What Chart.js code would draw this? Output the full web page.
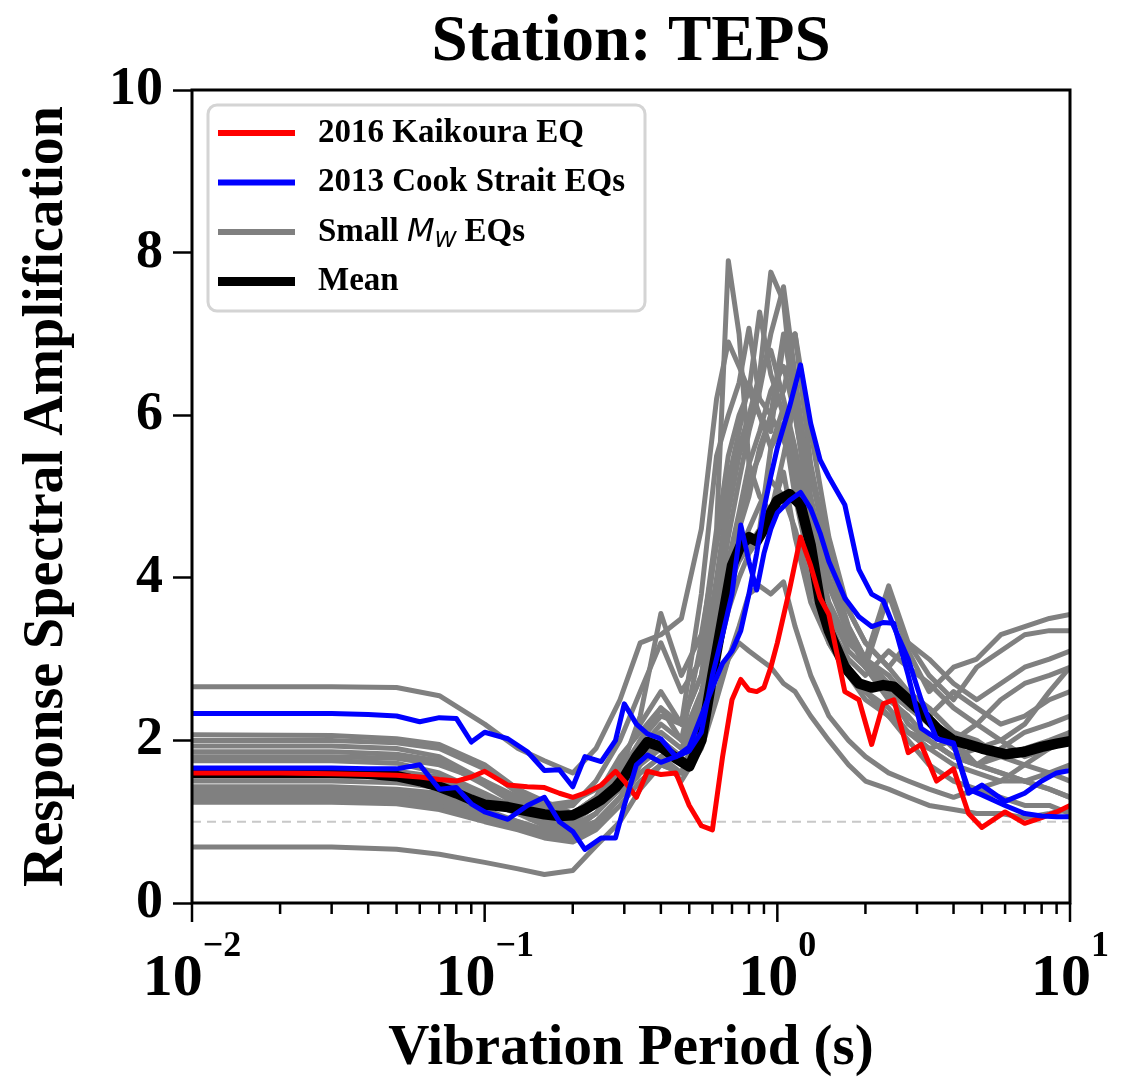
<!DOCTYPE html>
<html>
<head>
<meta charset="utf-8">
<script src="https://cdn.jsdelivr.net/npm/chart.js@4.4.1/dist/chart.umd.min.js"></script>
<style>
  html, body { margin: 0; padding: 0; background: #ffffff; }
  #chart { display: block; }
</style>
</head>
<body>
<canvas id="chart" width="1127" height="1078" style="width:1127px;height:1078px"></canvas>
<script>
// Periods (s) used for the highlighted records and the mean
const periods = [0.01, 0.02, 0.03, 0.04, 0.05, 0.06, 0.07, 0.08, 0.09, 0.1,
    0.12, 0.14, 0.16, 0.18, 0.2, 0.22, 0.25, 0.28, 0.3, 0.33, 0.36, 0.4, 0.45, 0.5,
    0.55, 0.6, 0.65, 0.7, 0.75, 0.8, 0.85, 0.9, 0.95, 1.0, 1.1, 1.2, 1.3, 1.4, 1.5,
    1.7, 1.9, 2.1, 2.3, 2.5, 2.8, 3.1, 3.5, 4.0, 4.5, 5.0, 6.0, 7.0, 8.0, 9.0, 10];

const meanAmp = [1.6, 1.6, 1.6, 1.59, 1.56, 1.5, 1.43, 1.35, 1.27, 1.21,
    1.18, 1.13, 1.09, 1.07, 1.08, 1.15, 1.27, 1.42, 1.55, 1.8, 1.98, 1.92, 1.78, 1.68,
    2.0, 2.8, 3.5, 4.15, 4.4, 4.5, 4.45, 4.6, 4.8, 4.95, 5.03, 4.9, 4.4, 3.7, 3.35,
    2.9, 2.7, 2.65, 2.68, 2.66, 2.5, 2.35, 2.15, 2.0, 1.95, 1.9, 1.83, 1.86, 1.92, 1.96, 1.99];

const kaikoura = [1.6, 1.6, 1.59, 1.58, 1.57, 1.55, 1.52, 1.5, 1.55, 1.62,
    1.45, 1.43, 1.42, 1.35, 1.3, 1.35, 1.45, 1.62, 1.5, 1.3, 1.62, 1.58, 1.6, 1.2,
    0.95, 0.9, 1.8, 2.5, 2.75, 2.62, 2.6, 2.65, 2.9, 3.2, 3.85, 4.5, 4.15, 3.75, 3.55,
    2.6, 2.5, 1.95, 2.45, 2.5, 1.85, 1.95, 1.5, 1.65, 1.1, 0.93, 1.12, 0.98, 1.05, 1.12, 1.2];

const cookStraitA = [2.33, 2.33, 2.33, 2.32, 2.3, 2.23, 2.28, 2.27, 1.98, 2.1,
    2.02, 1.86, 1.63, 1.64, 1.43, 1.8, 1.74, 2.0, 2.45, 2.2, 2.08, 2.02, 1.8, 1.87,
    2.1, 2.8, 3.3, 3.8, 4.65, 4.2, 3.85, 4.3, 4.6, 4.8, 4.95, 5.05, 4.85, 4.55, 4.2,
    3.75, 3.52, 3.4, 3.45, 3.44, 2.8, 2.15, 2.02, 1.97, 1.35, 1.45, 1.25, 1.35, 1.5, 1.6, 1.63];

const cookStraitB = [1.66, 1.66, 1.66, 1.65, 1.65, 1.7, 1.4, 1.42, 1.22, 1.12,
    1.03, 1.2, 1.3, 1.0, 0.88, 0.66, 0.8, 0.8, 1.2, 1.7, 1.82, 1.73, 1.8, 1.92,
    2.3, 2.65, 2.95, 3.1, 3.35, 3.8, 4.3, 4.85, 5.25, 5.6, 6.1, 6.62, 5.9, 5.45, 5.24,
    4.9, 4.1, 3.8, 3.72, 3.4, 3.0, 2.5, 2.02, 1.95, 1.4, 1.33, 1.2, 1.1, 1.07, 1.06, 1.06];

// Periods (s) for the small-magnitude records
const periodsGray = [0.01, 0.03, 0.05, 0.07, 0.1, 0.13, 0.16, 0.2, 0.24, 0.29, 0.34, 0.4,
    0.47, 0.55, 0.62, 0.68, 0.74, 0.8, 0.87, 0.95, 1.05, 1.15, 1.3, 1.5, 1.75, 2.0,
    2.4, 2.8, 3.3, 4.0, 4.8, 5.8, 7.0, 8.5, 10];

const small01 = [2.66, 2.66, 2.65, 2.55, 2.2, 1.9, 1.75, 1.6, 1.9, 2.5, 3.2, 3.3, 3.5, 4.6, 6.2, 6.9, 6.6, 6.3, 6.0, 5.6, 6.1, 5.2, 4.3, 3.6, 3.1, 2.9, 3.8, 3.1, 2.6, 2.9, 3.0, 3.3, 3.4, 3.5, 3.55];
const small02 = [2.07, 2.06, 2.02, 1.95, 1.7, 1.4, 1.25, 1.1, 1.3, 1.8, 2.1, 2.4, 2.0, 3.2, 4.6, 7.9, 7.0, 5.4, 5.0, 4.8, 5.3, 4.5, 3.7, 3.2, 2.8, 2.6, 2.4, 2.1, 1.9, 2.0, 1.7, 1.6, 1.5, 1.4, 1.3];
const small03 = [2.0, 2.0, 1.97, 1.9, 1.65, 1.35, 1.2, 1.1, 1.3, 1.6, 2.0, 2.3, 2.2, 3.8, 5.5, 6.0, 6.4, 7.07, 6.2, 6.0, 7.0, 6.2, 4.5, 3.4, 3.0, 2.8, 3.1, 2.9, 2.7, 2.4, 2.2, 2.0, 2.2, 2.6, 2.9];
const small04 = [1.93, 1.93, 1.9, 1.8, 1.5, 1.25, 1.15, 1.2, 1.5, 2.0, 2.6, 3.2, 2.6, 3.0, 4.5, 5.5, 6.0, 6.3, 7.27, 6.5, 6.0, 5.5, 4.4, 3.6, 3.2, 3.0, 3.9, 3.2, 2.8, 2.5, 2.9, 3.1, 3.3, 3.35, 3.35];
const small05 = [1.86, 1.86, 1.83, 1.75, 1.45, 1.2, 1.05, 1.0, 1.2, 1.7, 2.2, 2.6, 2.2, 2.8, 4.0, 5.0, 5.6, 6.0, 6.5, 7.76, 7.4, 6.0, 4.8, 3.9, 3.4, 3.0, 2.6, 2.4, 2.3, 2.0, 2.2, 2.5, 2.7, 2.8, 2.9];
const small06 = [1.8, 1.8, 1.78, 1.7, 1.5, 1.3, 1.2, 1.25, 1.4, 1.6, 1.9, 2.1, 1.9, 2.5, 3.6, 4.5, 5.2, 5.8, 6.3, 7.0, 7.58, 6.5, 5.0, 4.0, 3.3, 2.9, 2.5, 2.3, 2.0, 1.8, 1.9, 2.0, 1.8, 1.9, 2.0];
const small07 = [1.75, 1.75, 1.72, 1.6, 1.35, 1.15, 1.0, 0.95, 1.1, 1.5, 1.8, 2.0, 1.8, 2.4, 3.3, 4.0, 4.6, 5.0, 5.6, 6.0, 6.3, 7.0, 5.8, 4.5, 3.6, 3.2, 2.9, 2.6, 2.4, 2.1, 2.0, 1.8, 1.7, 1.6, 1.5];
const small08 = [1.65, 1.65, 1.62, 1.55, 1.3, 1.1, 0.95, 0.9, 1.0, 1.3, 1.6, 1.8, 1.6, 2.2, 3.0, 3.6, 4.0, 4.3, 4.5, 4.8, 5.5, 6.2, 5.3, 4.2, 3.4, 3.0, 2.7, 2.4, 2.2, 1.9, 1.7, 1.6, 1.5, 1.4, 1.3];
const small09 = [1.43, 1.43, 1.4, 1.35, 1.15, 1.0, 0.9, 0.9, 1.1, 1.4, 1.7, 1.9, 1.7, 2.0, 2.6, 3.0, 3.2, 3.1, 3.0, 2.9, 2.7, 2.6, 2.3, 2.0, 1.7, 1.5, 1.4, 1.3, 1.2, 1.15, 1.1, 1.1, 1.05, 1.1, 1.15];
const small10 = [1.38, 1.38, 1.35, 1.3, 1.1, 0.95, 0.85, 0.85, 1.0, 1.3, 1.6, 1.8, 1.5, 1.9, 2.5, 3.0, 3.4, 3.8, 3.9, 3.8, 3.95, 3.4, 2.8, 2.3, 2.0, 1.8, 1.6, 1.5, 1.4, 1.3, 1.4, 1.5, 1.7, 1.9, 2.1];
const small11 = [1.33, 1.33, 1.3, 1.25, 1.1, 1.0, 0.9, 0.9, 1.1, 1.5, 2.0, 2.4, 2.2, 2.8, 3.8, 4.8, 5.5, 5.9, 6.5, 6.8, 6.2, 5.6, 4.6, 3.7, 3.2, 3.0, 2.8, 2.5, 2.3, 2.6, 2.4, 2.2, 2.3, 2.5, 2.6];
const small12 = [1.28, 1.28, 1.26, 1.2, 1.05, 0.95, 0.85, 0.8, 0.95, 1.3, 1.7, 2.0, 1.8, 2.5, 3.5, 4.2, 4.8, 5.4, 5.8, 6.3, 6.6, 6.0, 4.9, 3.9, 3.3, 2.9, 2.6, 2.2, 2.0, 1.8, 1.7, 1.9, 2.1, 2.2, 2.3];
const small13 = [1.24, 1.24, 1.22, 1.15, 1.0, 0.9, 0.8, 0.75, 0.9, 1.2, 1.5, 1.7, 1.6, 2.1, 3.0, 3.7, 4.3, 4.6, 4.9, 5.2, 5.0, 4.6, 3.9, 3.2, 2.8, 2.5, 2.3, 2.0, 1.7, 1.5, 1.4, 1.3, 1.2, 1.2, 1.1];
const small14 = [0.69, 0.69, 0.66, 0.6, 0.5, 0.42, 0.35, 0.4, 0.7, 1.0, 1.4, 1.7, 1.6, 2.2, 3.2, 4.0, 4.7, 5.2, 5.5, 6.0, 5.7, 5.3, 4.4, 3.5, 2.9, 2.6, 2.3, 2.1, 1.9, 1.7, 1.6, 1.5, 1.5, 1.6, 1.7];
const small15 = [1.6, 1.6, 1.58, 1.5, 1.3, 1.2, 1.1, 1.1, 1.3, 1.6, 2.3, 3.56, 2.8, 3.3, 4.4, 5.2, 5.8, 6.4, 6.0, 5.8, 6.9, 7.0, 5.4, 4.3, 3.6, 3.2, 2.9, 3.2, 3.0, 2.7, 2.5, 2.7, 2.9, 3.0, 3.1];
const small16 = [1.5, 1.5, 1.48, 1.42, 1.25, 1.1, 1.0, 1.0, 1.2, 1.5, 1.9, 2.2, 2.0, 2.6, 3.4, 3.9, 4.2, 4.4, 4.6, 5.6, 5.9, 5.0, 4.1, 3.4, 2.9, 2.6, 2.3, 2.1, 2.0, 1.8, 1.7, 1.8, 1.9, 2.0, 2.1];

// Reference line at amplification = 1
const refPeriods = [0.01, 10];
const refLevel = [1, 1];

// Tick labels
const xMajorTicks = [0.01, 0.1, 1, 10];
const xTickExponents = ['\u22122', '\u22121', '0', '1'];
const yTicks = [0, 2, 4, 6, 8, 10];

const chartTitle = 'Station: TEPS';
const xTitle = 'Vibration Period (s)';
const yTitle = 'Response Spectral Amplification';
const legendLabels = ['2016 Kaikoura EQ', '2013 Cook Strait EQs', 'Small ', 'Mean'];

const serif = '"Liberation Serif", "Times New Roman", serif';
const RED = '#ff0000';
const BLUE = '#0000ff';
const GRAY = '#808080';

const toPoints = (xs, ys) => xs.map((x, i) => ({ x: x, y: ys[i] }));

const smallRecords = [small01, small02, small03, small04, small05, small06, small07, small08,
    small09, small10, small11, small12, small13, small14, small15, small16];

const datasets = [];
datasets.push({
    label: 'ref', data: toPoints(refPeriods, refLevel),
    borderColor: '#c8c8c8', borderWidth: 2, borderDash: [9, 6], order: 10,
});
smallRecords.forEach((rec) => {
    datasets.push({
        label: 'Small Mw EQs', data: toPoints(periodsGray, rec),
        borderColor: GRAY, borderWidth: 5, order: 5,
    });
});
datasets.push({ label: 'Mean', data: toPoints(periods, meanAmp), borderColor: '#000000', borderWidth: 10.5, order: 3 });
datasets.push({ label: '2016 Kaikoura EQ', data: toPoints(periods, kaikoura), borderColor: RED, borderWidth: 5, order: 2 });
datasets.push({ label: '2013 Cook Strait EQs', data: toPoints(periods, cookStraitA), borderColor: BLUE, borderWidth: 5, order: 1 });
datasets.push({ label: '2013 Cook Strait EQs', data: toPoints(periods, cookStraitB), borderColor: BLUE, borderWidth: 5, order: 1 });

// Frame, log ticks with superscript labels, title and legend
const decorations = {
    id: 'decorations',
    afterDraw(chart) {
        const ctx = chart.ctx;
        const { left, right, top, bottom } = chart.chartArea;
        const xs = chart.scales.x;
        ctx.save();

        // title
        ctx.fillStyle = '#000';
        ctx.font = 'bold 65px ' + serif;
        ctx.textAlign = 'center';
        ctx.textBaseline = 'alphabetic';
        ctx.fillText(chartTitle, (left + right) / 2, 60);

        // box
        ctx.strokeStyle = '#000';
        ctx.lineWidth = 3;
        ctx.strokeRect(left, top, right - left, bottom - top);

        // x ticks
        const tick = (px, len) => {
            ctx.beginPath();
            ctx.moveTo(px, bottom);
            ctx.lineTo(px, bottom + len);
            ctx.stroke();
        };
        ctx.lineWidth = 2.5;
        xMajorTicks.forEach((v, i) => {
            const px = xs.getPixelForValue(v);
            tick(px, 19);
            if (i < xMajorTicks.length - 1) {
                for (let m = 2; m <= 9; m++) {
                    tick(xs.getPixelForValue(v * m), 11);
                }
            }
            ctx.font = 'bold 60px ' + serif;
            const bw = ctx.measureText('10').width;
            ctx.font = 'bold 36px ' + serif;
            const ew = ctx.measureText(xTickExponents[i]).width;
            const start = px - (bw + ew) / 2;
            ctx.textAlign = 'left';
            ctx.font = 'bold 60px ' + serif;
            ctx.fillText('10', start, 995);
            ctx.font = 'bold 36px ' + serif;
            ctx.fillText(xTickExponents[i], start + bw, 956);
        });

        // legend
        const lx = left + 16, ly = top + 15, lw = 437, lh = 206;
        ctx.beginPath();
        ctx.roundRect(lx, ly, lw, lh, 9);
        ctx.fillStyle = 'rgba(255,255,255,0.8)';
        ctx.fill();
        ctx.strokeStyle = '#d4d4d4';
        ctx.lineWidth = 3;
        ctx.stroke();

        const rows = [
            { color: RED, width: 6 },
            { color: BLUE, width: 6 },
            { color: GRAY, width: 6 },
            { color: '#000', width: 9 },
        ];
        rows.forEach((r, i) => {
            const cy = ly + 28 + i * 49.5;
            ctx.strokeStyle = r.color;
            ctx.lineWidth = r.width;
            ctx.beginPath();
            ctx.moveTo(lx + 10, cy);
            ctx.lineTo(lx + 87, cy);
            ctx.stroke();

            ctx.fillStyle = '#000';
            ctx.textAlign = 'left';
            ctx.textBaseline = 'middle';
            ctx.font = 'bold 33px ' + serif;
            let tx = lx + 110;
            ctx.fillText(legendLabels[i], tx, cy);
            if (i === 2) {
                tx += ctx.measureText(legendLabels[i]).width;
                ctx.font = 'italic 32px "DejaVu Sans"';
                ctx.fillText('M', tx, cy + 1);
                tx += ctx.measureText('M').width;
                ctx.font = 'italic 22px "DejaVu Sans"';
                ctx.fillText('W', tx, cy + 9);
                tx += ctx.measureText('W').width;
                ctx.font = 'bold 33px ' + serif;
                ctx.fillText(' EQs', tx, cy);
            }
        });
        ctx.restore();
    },
};

new Chart(document.getElementById('chart'), {
    type: 'line',
    data: { datasets: datasets },
    options: {
        responsive: false,
        animation: false,
        layout: { padding: { left: 0, right: 57, top: 90, bottom: 0 } },
        elements: {
            point: { radius: 0 },
            line: { tension: 0, borderWidth: 5, borderJoinStyle: 'round', borderCapStyle: 'butt' },
        },
        plugins: {
            legend: { display: false },
            tooltip: { enabled: false },
            title: { display: false },
        },
        scales: {
            x: {
                type: 'logarithmic',
                min: 0.01,
                max: 10,
                grid: { display: false },
                border: { display: false },
                ticks: { display: false },
                afterFit: (scale) => { scale.height = 175; },
                title: {
                    display: true,
                    text: xTitle,
                    color: '#000',
                    font: { family: serif, size: 57, weight: 'bold', lineHeight: 1.0 },
                    padding: 0,
                },
            },
            y: {
                min: 0,
                max: 10,
                afterBuildTicks: (scale) => { scale.ticks = yTicks.map((v) => ({ value: v })); },
                ticks: {
                    color: '#000',
                    padding: 10,
                    font: { family: serif, size: 54, weight: 'bold' },
                },
                grid: {
                    drawOnChartArea: false,
                    drawTicks: true,
                    tickLength: 19,
                    tickWidth: 2.5,
                    tickColor: '#000',
                },
                border: { display: false },
                afterFit: (scale) => { scale.width = 192; },
                title: {
                    display: true,
                    text: yTitle,
                    color: '#000',
                    font: { family: serif, size: 56, weight: 'bold', lineHeight: 1.0 },
                    padding: { top: 20, bottom: 0 },
                },
            },
        },
    },
    plugins: [decorations],
});
</script>
</body>
</html>
